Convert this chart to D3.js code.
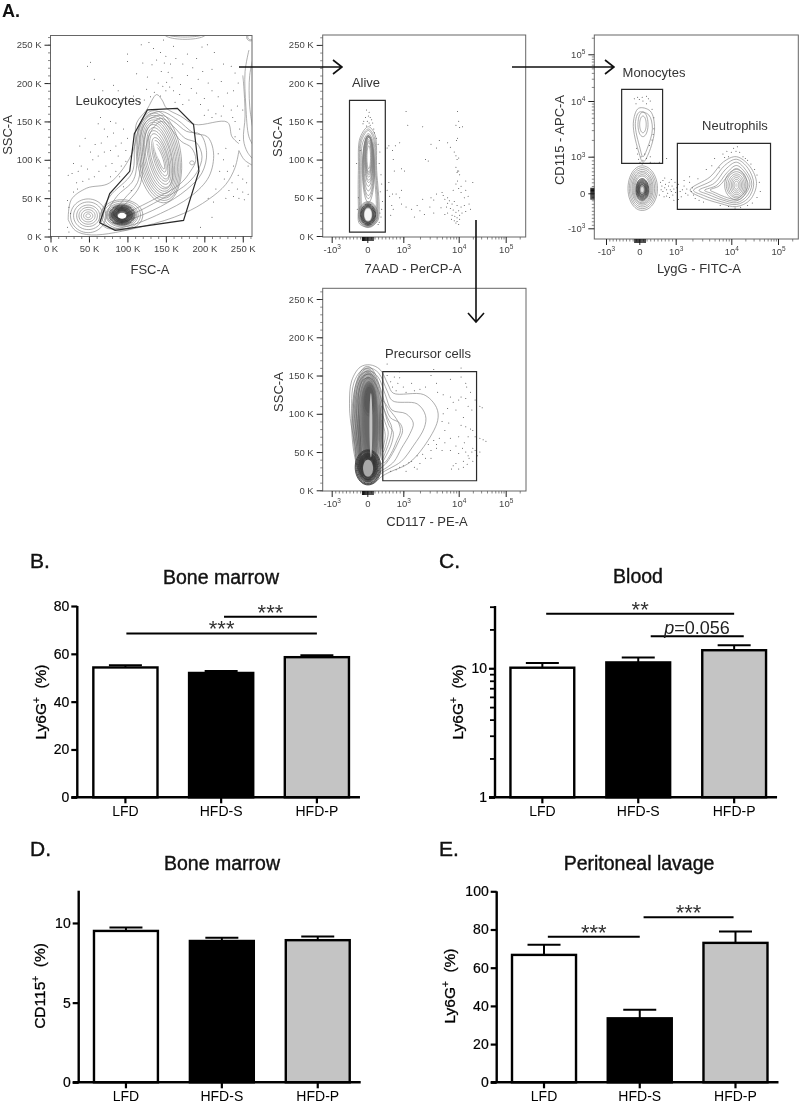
<!DOCTYPE html>
<html><head><meta charset="utf-8">
<script src="https://cdn.jsdelivr.net/npm/d3@7"></script>
<style>
html,body{margin:0;padding:0;background:#fff}
svg{display:block;filter:blur(0.4px)}
text{font-family:"Liberation Sans",Arial,sans-serif}
</style></head><body><svg id="c" width="800" height="1103"></svg>
<script>
// ---------- bar chart data ----------
const groups = ["LFD","HFD-S","HFD-P"];
const marrowLy6G = [54.3,52,58.6];
const marrowLy6GErr = [55.2,52.8,59.4];
const bloodLy6G = [10.1,11.1,13.8];
const bloodLy6GErr = [11.0,12.1,15.1];
const marrowCD115 = [9.5,8.87,8.92];
const marrowCD115Err = [9.72,9.08,9.15];
const lavageLy6G = [66.7,33.5,73];
const lavageLy6GErr = [72,38,79];
// significance lines: from / to in group index units, height in axis units
const sigB = [[1.03,2,75.5,"***"],[0.01,2,68.5,"***"]];
const sigC = [[0.04,2,26.5,"**"],[1.13,2.1,17.7,""]];
const sigE = [[0.04,1,76.2,"***"],[1.04,1.98,86.4,"***"]];
const linTicksK = [0,50,100,150,200,250];
const decadeTicks = [-1,0,1,2,3];

// ---------- flow cytometry data (K units and decade units) ----------
const leukoGate = [[64,18],[84,8],[173,21],[193,85],[186,146],[165,167],[126,165],[109,134],[103,85],[77,56]];
const leukoOpen = [
 [[23,22],[27,48],[47,63],[77,70],[108,113],[112,148],[125,165],[138,185],[145,178],[151,167],[169,157],[188,146],[230,149],[236,130],[245,121]],
 [[250,210],[251,200],[253,157],[251,126],[256,110],[264,100]],
 [[245,112],[252,100],[264,92]],
 [[245,112],[240,90],[228,68],[205,48],[173,30],[120,13],[53,2],[32,8],[23,22]],
 [[258,243],[253,215],[254,170],[258,130],[264,118]],
 [[264,235],[259,210],[259,170],[264,135]]
];
const leukoClosed = [
 [[64,22],[77,52],[106,83],[110,122],[121,152],[143,163],[165,152],[186,135],[204,130],[212,109],[206,78],[182,52],[143,30],[99,13],[73,11]],
 [[73,26],[86,52],[108,74],[114,113],[123,148],[143,158],[160,150],[177,137],[195,133],[203,109],[197,83],[177,61],[143,39],[103,22],[82,17]],
 [[82,30],[95,48],[113,70],[119,109],[127,141],[143,154],[158,145],[175,128],[190,122],[197,104],[190,83],[173,65],[143,48],[108,30],[88,24]],
 [[88,33],[102,47],[116,66],[122,105],[130,136],[144,150],[156,141],[170,124],[183,116],[189,100],[182,85],[168,68],[143,53],[112,37],[94,29]]
];
const leukoRings = [
 [141,104,29,60,-.1],[141,104,27,57,-.12],[141,104,25,54,-.13],[141,104,23,51,-.14],[141,104,21,48,-.15],[141,104,19,45,-.16],[141,104,17,42,-.18],[142,103,15,39,-.2],[142,103,13,35,-.22],[142,103,11,31,-.24],[143,102,9,27,-.26],[143,102,7,23,-.28],[143,102,5,18,-.3],[143,102,3,14,-.32],
 [49,27,23,22,0],[49,27,19,18,0],[49,27,15,14,0],[49,27,12,11,0],[49,27,9,8,0],[49,27,6,5,0],[49,27,3,2.5,0],
 [184,96,3,2.5,0],[175,264,27,7,0],[175,264,24,4,0],[260,260,5,5,0],[260,260,3.5,3.5,0],
 [93,28,27,20,0],[93,28,24,18,0],[93,28,21,15.5,0],[93,28,19,14,0]
];
const leukoDarkRings = [
 [93,28,17,13,0],[93,28,15.5,12,0],[93,28,14,11,0],[93,28,13,10,0],[93,28,12,9.5,0],[93,28,11,8.5,0],[93,28,10,8,0],[93,28,9,7,0],[93,28,8,6.5,0],[93,28,7,5.5,0]
];
const leukoCores = [[[93,27,5.5,3.8,0],"#fff"],[[138,113,2,13,-.3],"#fff"]];
const leukoDots = [[100,238],[118,250],[128,253],[134,245],[143,240],[147,256],[150,235],[156,225],[160,248],[163,232],[148,226],[144,215],[153,214],[158,207],[151,201],[146,196],[155,195],[160,190],[140,200],[135,188],[150,190],[143,183],[130,182],[125,192],[122,178],[115,175],[108,183],[98,173],[88,190],[92,178],[68,190],[82,197],[57,205],[48,222],[52,227],[100,228],[112,212],[120,226],[126,208],[132,224],[138,230],[172,225],[178,238],[185,220],[190,232],[197,247],[204,250],[213,240],[210,218],[198,215],[205,200],[192,205],[178,210],[169,198],[183,193],[190,187],[200,180],[210,190],[222,202],[235,222],[240,213],[225,225],[218,182],[230,187],[238,190],[243,170],[235,165],[225,170],[205,165],[215,160],[195,172],[180,178],[172,172],[168,185],[162,175],[200,158],[210,155],[222,157],[240,150],[246,140],[240,130],[246,125],[237,155],[250,165],[244,200],
[65,155],[62,147],[70,140],[78,150],[85,148],[95,140],[82,135],[74,130],[66,122],[58,120],[52,110],[45,128],[38,118],[30,95],[36,85],[40,92],[48,88],[55,100],[62,105],[70,110],[78,112],[85,118],[92,122],[100,128],[98,112],[88,105],[80,95],[72,92],[63,85],[57,78],[50,75],[42,72],[34,70],[28,82],[23,80],[35,62],[30,58],[22,47],[24,38],[26,30],[22,12],[24,6],[85,85],[92,92],[98,98],[105,105],[90,78],[78,78],[95,65],[105,60],
[230,85],[238,92],[244,80],[250,75],[255,70],[236,70],[243,62],[250,58],[257,55],[232,60],[226,75],[220,85],[245,50],[252,48],[238,52],[228,50],[215,62],[205,50],[212,45],[257,92],[225,100],[218,108],[228,115],[195,12],[210,25]];

const aliveGate = [[-.5,177.5],[.5,177.5],[.5,5],[-.5,5]];
const aliveClosed = [[[-.2,129],[-.25,86],[-.25,38],[-.22,16],[.03,12],[.28,19],[.33,34],[.26,86],[.21,133],[.03,143]],
 [[-.18,127],[-.22,86],[-.22,40],[-.2,18],[.03,14],[.26,20],[.3,35],[.24,86],[.19,130],[.03,140]],
 [[-.16,125],[-.2,86],[-.2,40],[-.18,20],[.03,16],[.24,22],[.28,36],[.22,86],[.17,128],[.03,138]],
 [[-.13,122],[-.17,86],[-.17,42],[-.15,22],[.03,18],[.21,24],[.25,38],[.19,86],[.15,125],[.03,134]]];
const aliveRings = [[.03,88,.17,44,0],[.03,90,.16,41,0],[.03,92,.15,39,0],[.03,95,.14,36,0],[.03,98,.13,33,0],[.04,100,.12,30,0],[.04,101,.11,28,0],[.04,103,.1,26,0],[.04,103,.09,23,0],[.04,103,.08,21,0],[.04,103,.07,19,0],[.04,103,.05,15,0],[.02,28,.27,17,0],[.02,28,.25,16,0],[.02,28,.23,15,0]];
const aliveDarkRings = [[.02,28,.21,14,0],[.02,28,.19,13,0],[.02,28,.17,12,0],[.02,28,.15,11,0],[.02,28,.13,10,0]];
const aliveCores = [[[.02,28,.1,8,0],"#f4f4f4"]];
const aliveDots = [[-.02,165],[.05,162],[.03,157],[-.05,155],[.08,155],[.12,152],[-.1,150],[0,150],[.05,148],[.15,148],[-.12,147],[.08,145],[-.02,144],[.18,140],[.2,135],[.25,128],[.3,120],[-.2,112],[.35,110],[.33,95],[.38,80],[.4,68],[.36,58],[-.3,95],[-.25,50],[-.28,35],[.35,30],[.38,25],[.33,18],[.3,15],[.42,45],[.4,35],
[.55,115],[.6,118],[.78,118],[.7,112],[.72,100],[.9,122],[1.05,163],[1.08,145],[1.35,143],[1.65,125],[1.5,120],[1.6,115],[1.85,116],[1.8,122],[.75,85],[.95,88],[1.02,85],[1.4,100],[1.45,98],[.6,70],[.55,60],[.7,55],[.8,55],[.68,40],[.72,35],[.65,27],[.95,42],[1.05,38],[1.15,35],[1.25,40],[1.35,48],[1.5,50],[1.55,47],[1.6,55],[1.7,57],[1.72,53],[1.8,50],[1.68,37],[1.55,30],[1.48,38],[1.38,28],[1.3,33],[.95,60],[.9,50],[1.2,25],[.62,52],
[1.98,163],[1.96,125],[2.0,150],[1.95,145],[2.02,142],[2.08,143],[1.98,128],[1.92,110],[1.95,105],[1.97,100],[2,102],[1.95,90],[1.98,85],[1.97,83],[2,85],[2.02,80],[1.98,72],[1.95,68],[1.9,60],[2,62],[2.05,65],[2.15,72],[2.3,70],[2.15,60],[2.2,52],[2.12,50],[2.05,57],
[1.75,48],[1.8,43],[1.83,46],[1.88,42],[1.92,45],[1.97,40],[1.78,38],[1.85,36],[1.9,34],[1.95,31],[2.0,33],[2.05,38],[1.8,30],[1.75,28],[1.88,27],[1.93,26],[1.97,24],[2.02,27],[2.07,30],[1.87,22],[1.92,20],[1.97,19],[2.02,22],[1.95,17],[2,15],[2.12,40],[2.22,42],[2.25,35],[2.15,32]];

const monoGate = [[-.53,2.25],[.64,2.25],[.64,.82],[-.53,.82]];
const neutGate = [[1.03,1.24],[2.84,1.24],[2.84,-.46],[1.03,-.46]];
const myeloClosed = [
 [[-.18,1.6],[-.02,1.87],[.3,1.82],[.42,1.5],[.25,1.05],[.1,.85],[0,1.05]],
 [[-.12,1.6],[0,1.8],[.26,1.75],[.36,1.5],[.22,1.15],[.1,1],[.02,1.15]],
 [[1.26,.09],[1.62,.45],[1.86,.86],[2.11,1],[2.4,.73],[2.54,.27],[2.4,-.19],[2.11,-.38],[1.8,-.29],[1.44,-.1]],
 [[1.32,.08],[1.66,.36],[1.88,.76],[2.11,.93],[2.36,.68],[2.48,.25],[2.36,-.14],[2.11,-.32],[1.82,-.24],[1.5,-.06]],
 [[1.42,.08],[1.7,.28],[1.9,.66],[2.11,.85],[2.32,.62],[2.44,.25],[2.32,-.1],[2.11,-.27],[1.84,-.19],[1.58,-.03]],
 [[1.52,.08],[1.74,.22],[1.92,.56],[2.11,.76],[2.3,.56],[2.4,.25],[2.28,-.06],[2.1,-.22],[1.86,-.15],[1.66,-.01]],
 [[1.62,.09],[1.78,.2],[1.94,.48],[2.11,.68],[2.27,.5],[2.36,.22],[2.25,-.03],[2.1,-.17],[1.88,-.1],[1.72,.01]]
];
const myeloRings = [[.1,1.58,.14,.22,0],[.1,1.58,.09,.15,0],[.08,.13,.42,.62,0],[.08,.13,.38,.57,0],[.08,.13,.34,.52,0],[.08,.13,.3,.47,0],[.08,.13,.27,.43,0],[.08,.12,.24,.39,0],[.08,.12,.21,.35,0],[2.11,.23,.23,.42,0],[2.11,.23,.2,.36,0],[2.11,.22,.17,.31,0],[2.11,.22,.14,.26,0],[2.11,.22,.11,.21,0],[2.11,.22,.08,.16,0],[2.11,.22,.05,.11,0]];
const myeloDarkRings = [[.08,.1,.18,.3,0],[.08,.1,.16,.27,0],[.08,.1,.14,.24,0],[.08,.1,.12,.21,0],[.08,.1,.1,.18,0],[.08,.1,.08,.14,0]];
const myeloCores = [[[.08,.1,.04,.07,0],"#ddd"],[[2.11,.22,.03,.06,0],"#ddd"]];
const myeloDots = [[-.15,2.05],[-.05,2.08],[0,2.03],[.08,2.08],[.2,2.1],[.25,2.05],[.3,2.0],[.1,2.0],[-.1,1.95],[.2,1.95],[.35,1.85],[.4,1.7],[.4,1.5],[.38,1.4],[.35,1.3],[.28,1.2],[-.08,1.15],[-.05,1.05],[.05,1.0],[.15,1.05],[.2,.95],[.3,1.0],[.1,.9],[-.02,.93],[.02,.85],[.08,.8],[.3,.85],[.42,.82],[.55,.85],[.75,.95],
[.58,.3],[.62,.2],[.65,.35],[.6,.1],[.65,.05],[.7,.15],[.72,.25],[.75,.1],[.78,.0],[.8,.2],[.82,.3],[.85,.1],[.88,.05],[.9,.2],[.92,-.05],[.95,.12],[.98,.3],[1,.02],[1.02,.15],[1.05,.25],[1.08,.05],[1.1,-.1],[1.12,.1],[1.15,.2],[1.18,.0],[1.2,.12],[1.22,-.05],[1.25,.3],[1.28,.05],[1.3,.15],[.68,-.1],[.75,-.08],[.83,-.12],[1.32,-.05],[1.35,-.15],[1.4,.4],[1.42,-.2],[1.5,-.25],[1.25,.45],[.7,.42],[.55,-.05],[.88,.38],[.95,-.2],[1.05,-.18],[1.15,.35],
[1.55,.65],[1.65,.75],[1.7,.95],[1.78,.7],[1.85,1.05],[1.88,.98],[1.92,1.1],[1.95,1.0],[2.0,1.08],[2.05,1.15],[2.1,1.1],[2.13,1.18],[2.18,1.08],[2.25,1.0],[2.3,.95],[2.35,.9],[2.42,.8],[2.5,.65],[2.55,.5],[2.6,.3],[2.62,.05],[2.55,-.12],[2.45,-.28],[2.35,-.35],[2.2,-.4],[2.08,-.42],[1.95,-.38],[1.8,-.35]];

const precGate = [[.43,155],[2.38,155],[2.38,12.5],[.43,12.5]];
const precClosed = [[[-.5,113],[-.44,143],[-.2,161],[.07,164],[.35,158],[.58,138],[.72,127],[1.37,125],[1.6,108],[1.62,91],[1.37,57],[1.09,35],[.63,24],[.4,18],[.17,9],[-.11,9],[-.3,22],[-.34,57],[-.46,87]],
 [[-.44,113],[-.38,140],[-.18,156],[.07,160],[.32,153],[.55,130],[.7,117],[1.25,113],[1.4,98],[1.38,82],[1.18,58],[.95,38],[.6,28],[.38,22],[.17,12],[-.09,12],[-.26,25],[-.3,57],[-.4,87]],
 [[-.38,113],[-.33,137],[-.16,152],[.07,156],[.3,148],[.5,125],[.68,105],[1.05,100],[1.18,88],[1.12,74],[.95,55],[.75,38],[.55,30],[.35,24],[.17,15],[-.07,15],[-.23,28],[-.26,57],[-.34,87]],
 [[-.32,113],[-.28,134],[-.14,148],[.07,152],[.28,143],[.46,118],[.64,95],[.9,88],[.98,78],[.88,65],[.7,48],[.5,34],[.32,27],[.17,18],[-.05,18],[-.2,30],[-.22,57],[-.28,87]],
 [[-.26,113],[-.23,130],[-.12,144],[.07,147],[.26,136],[.43,112],[.6,85],[.72,76],[.68,62],[.52,45],[.38,34],[.25,28],[.15,21],[-.03,21],[-.17,32],[-.18,57],[-.22,87]],
 [[.4,118],[.62,105],[.85,90],[.92,78],[.82,65],[.66,48],[.46,36]],
 [[.4,110],[.56,95],[.68,82],[.64,68],[.52,52],[.4,40]],
 [[.4,100],[.5,88],[.58,76],[.54,64],[.44,50]],
 [[.4,92],[.46,82],[.5,72],[.47,62],[.42,54]]];
const precHaze = [[.0,88,.44,74,0],[.0,88,.41,71,0],[.0,88,.38,68,0],[.01,88,.35,66,0],[.01,88,.32,64,0],[.02,86,.29,62,0],[.02,86,.27,60,0],[.03,84,.25,58,0],[.05,90,.23,52,0],[.06,90,.2,50,0],[.06,92,.18,46,0],[.07,95,.16,42,0],[.05,118,.2,22,0],[.05,118,.16,18,0]];
const precDarkRings = [[.02,30,.36,23,0],[.02,30,.33,22,0],[.02,30,.3,21,0],[.02,30,.27,19,0],[.02,30,.25,18,0],[.02,30,.23,17,0],[.02,30,.21,16,0],[.02,30,.19,15,0],[.02,30,.17,14,0]];
const precCores = [[[.1,85,.04,42,0],"#c4c4c4"],[[.02,29,.14,11,0],"#a8a8a8"]];
const precDots = [[.55,150],[.65,142],[.7,135],[.75,148],[.9,147],[.85,140],[.8,130],[1.0,135],[1.15,140],[1.2,130],[1.05,128],[1.3,132],[1.4,135],[1.5,150],[1.6,140],[1.62,128],[1.72,125],[1.85,122],[1.9,115],[1.95,105],[1.8,107],[1.72,100],[1.7,90],[1.82,88],[1.75,78],[1.85,68],[2.0,70],[1.95,58],[1.85,52],[1.75,62],[1.7,52],[1.6,55],[1.5,52],[1.45,60],[1.6,60],[1.55,65],[1.65,68],[1.5,42],[1.4,42],[1.35,47],[1.25,45],[1.2,30],[1.3,35],[1.1,36],[1.0,32],[.9,30],[.8,27],[.65,25],[1.05,25],[1.15,38],[1.25,28],
[1.85,145],[2.05,148],[2.15,140],[2.17,135],[2.25,128],[2.35,118],[2.45,110],[2.5,108],[2.05,122],[2.0,118],[2.15,120],[2.2,110],[2.28,105],[2.1,95],[2.05,85],[2.15,83],[2.25,80],[2.3,78],[2.35,70],[2.38,62],[2.45,68],[2.52,66],[2.58,64],[2.2,70],[2.12,62],[2.08,55],[2.0,48],[2.15,50],[2.2,45],[2.28,50],[2.3,55],[2.35,52],[2.4,45],[2.45,50],[2.3,38],[2.22,42],[2.1,38],[1.95,35],[1.9,32],[1.87,28],[2.0,28],[2.1,30],[2.38,38],[2.18,34],[2.05,160],[1.55,158],[.55,165],[.9,155]];

// ---------- drawing ----------
const svg = d3.select("#c");
const ink = "#000";
function label(x,y,t,o={}){
  const s = svg.append("text").attr("x",x).attr("y",y).text(t)
    .attr("font-size",o.size||13).attr("fill",o.fill||"#333")
    .attr("text-anchor",o.anchor||"middle").attr("font-weight",o.weight||"normal");
  if(o.rot) s.attr("transform",`rotate(${o.rot} ${x} ${y})`);
  if(o.stroke) s.attr("stroke",o.fill||"#333").attr("stroke-width",o.stroke);
  return s;
}
let clipId = 0;
function ringPts(r){
  const [cx,cy,rx,ry,k] = r;
  return d3.range(48).map(i=>{
    const a=i/48*2*Math.PI, dy=ry*Math.sin(a);
    return [cx+rx*Math.cos(a)+k*dy, cy+dy];
  });
}
function linearMinor(max,step){ return d3.range(0,max+1,step); }
function decadeMinor(lo,hi){
  const out=[];
  for(let d=Math.max(1,Math.ceil(lo));d<Math.floor(hi)+1;d++) for(let k=2;k<10;k++){ const v=d+Math.log10(k); if(v<hi) out.push(v); }
  for(let v=-.9;v<1;v+=.1) if(v>lo) out.push(v);
  return out;
}
function decadeLabel(sel,d){
  sel.text("");
  if(d===0){ sel.text("0"); return; }
  sel.append("tspan").text((d<0?"-":"")+"10");
  sel.append("tspan").text(d<0?3:d+2).attr("font-size",6.5).attr("dy",-3.5);
}
function flow(p){
  const g = svg.append("g");
  const id = "clip"+(clipId++);
  const [l,r,t,b] = p.frame;
  g.append("clipPath").attr("id",id).append("rect").attr("x",l).attr("y",t).attr("width",r-l).attr("height",b-t);
  const plot = g.append("g").attr("clip-path",`url(#${id})`);
  const closed = d3.line().x(d=>p.x(d[0])).y(d=>p.y(d[1])).curve(d3.curveCatmullRomClosed.alpha(.5));
  const open = d3.line().x(d=>p.x(d[0])).y(d=>p.y(d[1])).curve(d3.curveCatmullRom.alpha(.5));
  plot.selectAll(".o").data(p.open||[]).join("path").attr("d",open).attr("fill","none").attr("stroke","#8c8c8c").attr("stroke-width",.7);
  plot.selectAll(".c").data(p.closed||[]).join("path").attr("d",closed).attr("fill","none").attr("stroke","#8a8a8a").attr("stroke-width",.7);
  plot.selectAll(".h").data(p.haze||[]).join("path").attr("d",d=>closed(ringPts(d))).attr("fill","rgba(0,0,0,.075)").attr("stroke","#6a6a6a").attr("stroke-width",.55);
  plot.selectAll(".r").data(p.rings||[]).join("path").attr("d",d=>closed(ringPts(d))).attr("fill","none").attr("stroke","#808080").attr("stroke-width",.65);
  plot.selectAll(".d").data(p.dark||[]).join("path").attr("d",d=>closed(ringPts(d))).attr("fill","rgba(0,0,0,.08)").attr("stroke","#333").attr("stroke-width",.8);
  plot.selectAll(".k").data(p.cores||[]).join("path").attr("d",d=>closed(ringPts(d[0]))).attr("fill",d=>d[1]).attr("stroke","none");
  plot.selectAll("circle").data(p.dots).join("circle").attr("cx",d=>p.x(d[0])).attr("cy",d=>p.y(d[1])).attr("r",.5).attr("fill","#444");
  (p.gates||[]).forEach(gt=>{
    g.append("path").attr("d",d3.line().x(d=>p.x(d[0])).y(d=>p.y(d[1])).curve(d3.curveLinearClosed)(gt))
     .attr("fill","none").attr("stroke","#2a2a2a").attr("stroke-width",1.2);
  });
  g.append("rect").attr("x",l).attr("y",t).attr("width",r-l).attr("height",b-t).attr("fill","none").attr("stroke","#666").attr("stroke-width",1);
  function axis(scale,gen,ticks,fmt,tr,minors,rug){
    const a = g.append("g").attr("transform",tr);
    const major = gen(scale).tickValues(ticks).tickSize(6).tickPadding(3).tickSizeOuter(0).tickFormat(()=>"");
    a.call(major);
    a.select(".domain").remove();
    a.selectAll("line").attr("stroke","#222").attr("stroke-width",1);
    a.selectAll(".tick text").attr("font-size",9.5).attr("fill","#444").attr("font-family","Liberation Sans").each(function(d){ fmt(d3.select(this),d); });
    const mg = g.append("g").attr("transform",tr);
    mg.call(gen(scale).tickValues(minors).tickSize(2.5).tickFormat(()=>"").tickSizeOuter(0));
    mg.select(".domain").remove();
    mg.selectAll("line").attr("stroke","#555").attr("stroke-width",.7);
    if(rug){
      const rg = g.append("g").attr("transform",tr);
      rg.call(gen(scale).tickValues(rug).tickSize(4).tickFormat(()=>"").tickSizeOuter(0));
      rg.select(".domain").remove();
      rg.selectAll("line").attr("stroke","#111").attr("stroke-width",1);
    }
  }
  const kFmt=(s,d)=>s.text(d+" K");
  const xm = p.xLog ? decadeMinor(p.x.domain()[0],p.x.domain().at(-1)) : linearMinor(260,10);
  const ym = p.yLog ? decadeMinor(p.y.domain()[0],p.y.domain().at(-1)) : linearMinor(260,10);
  const rugV = d3.range(-.15,.16,.03);
  axis(p.x,d3.axisBottom,p.xLog?decadeTicks:linTicksK,p.xLog?decadeLabel:kFmt,`translate(0,${b})`,xm,p.xLog?rugV:null);
  axis(p.y,d3.axisLeft,p.yLog?decadeTicks:linTicksK,p.yLog?decadeLabel:kFmt,`translate(${l},0)`,ym,p.yLog?rugV:null);
  label(p.xTitle[1],p.xTitle[2],p.xTitle[0]);
  label(p.yTitle[1],p.yTitle[2],p.yTitle[0],{rot:-90});
  (p.names||[]).forEach(n=>label(n[1],n[2],n[0]));
}
const x2 = d3.scaleLinear().domain([-1.25,-1,0,1,2,3,3.43]).range([322.7,331.7,367.3,403.3,458.7,505.7,525.7]);
const x3 = d3.scaleLinear().domain([-1.35,-1,0,1,2,3,3.43]).range([594.3,606,639.3,675.7,731.3,778,798.3]);
flow({frame:[50.5,252,35.5,236.5],
  x:d3.scaleLinear().domain([0,262]).range([50.5,252]),
  y:d3.scaleLinear().domain([0,262]).range([236.5,35.5]),
  open:leukoOpen,closed:leukoClosed,rings:leukoRings,dark:leukoDarkRings,cores:leukoCores,dots:leukoDots,gates:[leukoGate],
  xTitle:["FSC-A",150,274],yTitle:["SSC-A",12,135],names:[["Leukocytes",108.5,105]]});
flow({frame:[322.7,525.7,35,237],xLog:true,
  x:x2,y:d3.scaleLinear().domain([0,263]).range([236,35]),
  closed:aliveClosed,rings:aliveRings,dark:aliveDarkRings,cores:aliveCores,dots:aliveDots,gates:[aliveGate],
  xTitle:["7AAD - PerCP-A",413,273],yTitle:["SSC-A",282,137],names:[["Alive",366,87]]});
flow({frame:[594.3,798.3,35,239],xLog:true,yLog:true,
  x:x3,y:d3.scaleLinear().domain([-1.3,-1,0,1,2,3,3.35]).range([239,228.3,193.3,156.7,101,54.3,35]),
  closed:myeloClosed,rings:myeloRings,dark:myeloDarkRings,cores:myeloCores,dots:myeloDots,gates:[monoGate,neutGate],
  xTitle:["LygG - FITC-A",699,273],yTitle:["CD115 - APC-A",564,140],names:[["Monocytes",654,77],["Neutrophils",735,130]]});
flow({frame:[322.7,526,288.3,491],xLog:true,
  x:x2,y:d3.scaleLinear().domain([0,264]).range([490.3,288.3]),
  closed:precClosed,haze:precHaze,dark:precDarkRings,cores:precCores,dots:precDots,gates:[precGate],
  xTitle:["CD117 - PE-A",427,526],yTitle:["SSC-A",283,392],names:[["Precursor cells",428,358]]});
// arrows
const arrowPath = d3.path();
[[239,67,342,67,-9,7],[512,67,614,67,-9,7]].forEach(a=>{
  arrowPath.moveTo(a[0],a[1]);arrowPath.lineTo(a[2],a[3]);
  arrowPath.moveTo(a[2]+a[4],a[3]-a[5]);arrowPath.lineTo(a[2],a[3]);arrowPath.lineTo(a[2]+a[4],a[3]+a[5]);
});
arrowPath.moveTo(476,220);arrowPath.lineTo(476,322);
arrowPath.moveTo(468,313);arrowPath.lineTo(476,322);arrowPath.lineTo(484,313);
svg.append("path").attr("d",arrowPath.toString()).attr("fill","none").attr("stroke","#111").attr("stroke-width",1.6);

// bar panels
const barFills = ["#fff","#000","#c4c4c4"];
function ylabel(x,y,main,sup,rest){
  const t = svg.append("text").attr("transform",`translate(${x},${y}) rotate(-90)`).attr("text-anchor","middle")
    .attr("font-size",15.5).attr("fill",ink).attr("stroke",ink).attr("stroke-width",.3).attr("xml:space","preserve");
  t.append("tspan").text(main);
  t.append("tspan").text(sup).attr("font-size",10).attr("dy",-6);
  t.append("tspan").text(rest).attr("dy",6);
}
function barPanel(p){
  const g = svg.append("g");
  const {x0,bars,base,top,yScale} = p;
  const bw = p.barW;
  const centers = bars;
  const xb = d3.scaleBand().domain(groups)
     .range([centers[0]-bw/2-(centers[1]-centers[0]-bw)/2, centers[2]+bw/2+(centers[1]-centers[0]-bw)/2])
     .paddingInner(1-bw/(centers[1]-centers[0])).paddingOuter((1-bw/(centers[1]-centers[0]))/2);
  const xi = d3.scaleLinear().domain([0,2]).range([xb(groups[0])+xb.bandwidth()/2,xb(groups[2])+xb.bandwidth()/2]);
  const y = yScale;
  groups.forEach((c,i)=>{
    const cx = xb(c)+xb.bandwidth()/2;
    g.append("line").attr("x1",cx).attr("x2",cx).attr("y1",y(p.values[i])).attr("y2",y(p.errs[i])).attr("stroke",ink).attr("stroke-width",2);
    g.append("line").attr("x1",cx-16.5).attr("x2",cx+16.5).attr("y1",y(p.errs[i])).attr("y2",y(p.errs[i])).attr("stroke",ink).attr("stroke-width",2);
  });
  g.selectAll("rect").data(groups).join("rect")
   .attr("x",d=>xb(d)).attr("width",xb.bandwidth())
   .attr("y",(d,i)=>y(p.values[i])).attr("height",(d,i)=>base-y(p.values[i]))
   .attr("fill",(d,i)=>barFills[i]).attr("stroke",ink).attr("stroke-width",2.4);
  const ya = g.append("g").attr("transform",`translate(${x0},0)`)
    .call(d3.axisLeft(y).tickValues(p.ticks).tickFormat(d3.format("d")).tickSize(6).tickPadding(2).tickSizeOuter(0));
  ya.selectAll("line").attr("stroke",ink).attr("stroke-width",2.2);
  ya.select(".domain").remove();
  ya.selectAll("text").attr("font-size",14).attr("fill",ink).attr("font-family","Liberation Sans").attr("stroke",ink).attr("stroke-width",.2);
  if(p.minor){
    const ym = g.append("g").attr("transform",`translate(${x0},0)`)
      .call(d3.axisLeft(y).tickValues(p.minor).tickFormat(()=>"").tickSize(5).tickSizeOuter(0));
    ym.selectAll("line").attr("stroke",ink).attr("stroke-width",1.8);
    ym.select(".domain").remove();
  }
  g.append("line").attr("x1",x0).attr("x2",x0).attr("y1",top).attr("y2",base).attr("stroke",ink).attr("stroke-width",2.4);
  const xa = g.append("g").attr("transform",`translate(0,${base})`)
    .call(d3.axisBottom(xb).tickSize(6).tickPadding(3).tickSizeOuter(0));
  xa.select(".domain").remove();
  xa.selectAll("line").attr("stroke",ink).attr("stroke-width",2.2);
  xa.selectAll("text").attr("font-size",14).attr("fill",ink).attr("font-family","Liberation Sans");
  g.append("line").attr("x1",x0-6).attr("x2",xb(groups[2])+xb.bandwidth()+11).attr("y1",base).attr("y2",base).attr("stroke",ink).attr("stroke-width",2.4);
  p.sig.forEach(s=>{
    const a=xi(s[0]),b=xi(s[1]),yy=y(s[2]);
    g.append("line").attr("x1",a).attr("x2",b).attr("y1",yy).attr("y2",yy).attr("stroke",ink).attr("stroke-width",2);
    if(s[3]) label((a+b)/2,yy+p.starDy,s[3],{size:22,fill:"#333"});
  });
  label(p.title[1],p.title[2],p.title[0],{size:19.5,fill:"#111",stroke:.4});
  label(p.letter[1],p.letter[2],p.letter[0],{size:21,fill:"#111",anchor:"start",stroke:.4});
  ylabel(p.ylab[0],p.ylab[1],p.ylab[2],"+",p.ylab[3]);
}
barPanel({x0:77.3,bars:[125.3,220.8,317],barW:64,base:797.3,top:606,
  yScale:d3.scaleLinear().domain([0,80]).range([797.3,606]),ticks:[0,20,40,60,80],
  values:marrowLy6G,errs:marrowLy6GErr,sig:sigB,starDy:3,
  title:["Bone marrow",221,584],letter:["B.",30,568],ylab:[46,702,"Ly6G","  (%)"]});
barPanel({x0:495,bars:[542.5,638.7,734],barW:64,base:797.3,top:606,
  yScale:d3.scaleLog().domain([1,30]).range([797.3,606.7]),ticks:[1,10],minor:[2,3,4,5,6,7,8,9,20,30],
  values:bloodLy6G,errs:bloodLy6GErr,sig:sigC,starDy:3,
  title:["Blood",638,583],letter:["C.",439,568],ylab:[463,702,"Ly6G","  (%)"]});
barPanel({x0:78.7,bars:[126,222,317.7],barW:64,base:1082.3,top:890.7,
  yScale:d3.scaleLinear().domain([0,12]).range([1082.3,891.1]),ticks:[0,5,10],
  values:marrowCD115,errs:marrowCD115Err,sig:[],starDy:3,
  title:["Bone marrow",222,870],letter:["D.",30,856],ylab:[45,986,"CD115","  (%)"]});
barPanel({x0:496.7,bars:[544,639.7,735.5],barW:64,base:1082.3,top:891.3,
  yScale:d3.scaleLinear().domain([0,100]).range([1082.3,891.3]),ticks:[0,20,40,60,80,100],
  values:lavageLy6G,errs:lavageLy6GErr,sig:sigE,starDy:3,
  title:["Peritoneal lavage",639,870],letter:["E.",439,856],ylab:[455,986,"Ly6G","  (%)"]});
const pt = svg.append("text").attr("x",697).attr("y",634).attr("text-anchor","middle").attr("font-size",18).attr("fill","#222");
pt.append("tspan").text("p").attr("font-style","italic");
pt.append("tspan").text("=0.056");
label(2,17,"A.",{size:18,fill:"#111",anchor:"start",weight:"bold"});
</script></body></html>
